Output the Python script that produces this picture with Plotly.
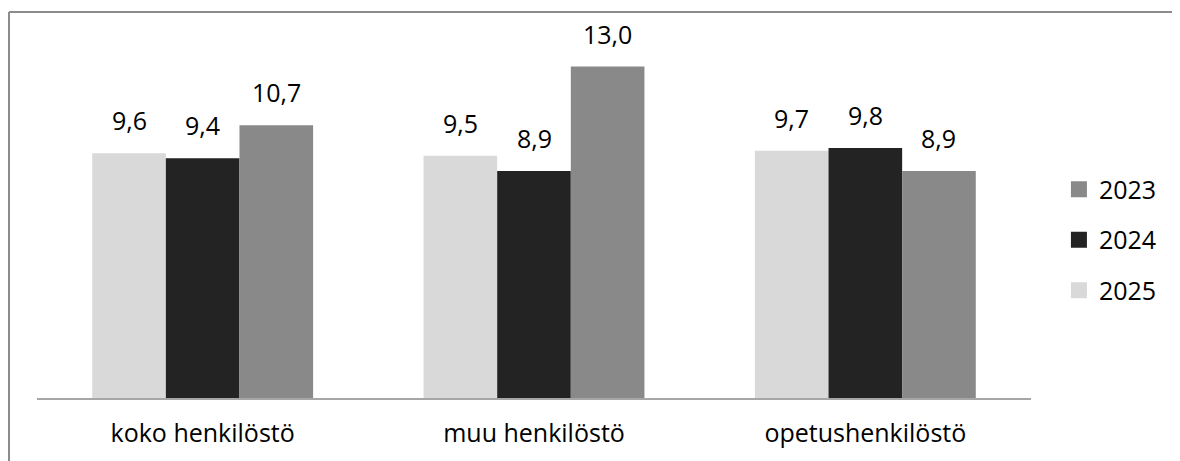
import plotly.graph_objects as go

categories = ["koko henkilöstö", "muu henkilöstö", "opetushenkilöstö"]
years = ["2025", "2024", "2023"]
values_2025 = [9.6, 9.5, 9.7]
values_2024 = [9.4, 8.9, 9.8]
values_2023 = [10.7, 13.0, 8.9]
colors = {"2025": "#d9d9d9", "2024": "#232323", "2023": "#898989"}

series = {"2025": values_2025, "2024": values_2024, "2023": values_2023}

FONT = "Open Sans"
FS = 25
bar_w = 2 / 9
offsets = {"2025": -1 / 3, "2024": -1 / 9, "2023": 1 / 9}

L, T, PW, PH = 29, 33, 994, 357

fig = go.Figure()
xs = list(range(len(categories)))
annotations = []
for i, yr in enumerate(years):
    vals = series[yr]
    fig.add_trace(go.Bar(
        x=xs, y=vals, name=yr,
        width=[bar_w] * len(xs), offset=offsets[yr],
        marker=dict(color=colors[yr], line=dict(width=0)),
        showlegend=False,
        hoverinfo="skip",
    ))
    for x, v in zip(xs, vals):
        annotations.append(dict(
            x=x + offsets[yr] + bar_w / 2, y=v, xref="x", yref="y",
            text=f"{v:.1f}".replace(".", ","), showarrow=False,
            yanchor="bottom", yshift=14,
            font=dict(family=FONT, size=FS, color="#000000"),
        ))

# legend entries (square swatches)
for i, yr in enumerate(years):
    fig.add_trace(go.Scatter(
        x=[None], y=[None], mode="markers", name=yr,
        marker=dict(symbol="square", size=16, color=colors[yr], line=dict(width=0)),
        legendgroup=yr, legendrank=3 - i, hoverinfo="skip",
    ))

fig.update_layout(
    width=1180, height=461,
    margin=dict(l=L, r=1180 - L - PW, t=T, b=461 - T - PH),
    paper_bgcolor="white", plot_bgcolor="white",
    font=dict(family=FONT, size=FS, color="#000000"),
    barmode="overlay",
    showlegend=True,
    legend=dict(
        x=1.0281, xanchor="left", y=0.4426, yanchor="middle",
        traceorder="grouped", tracegroupgap=15, itemsizing="trace",
        font=dict(family=FONT, size=FS, color="#000000"),
        bgcolor="rgba(0,0,0,0)",
    ),
    annotations=annotations,
    xaxis=dict(
        range=[-0.5, 2.5], tickvals=xs, ticktext=categories,
        showgrid=False, zeroline=False, showline=True,
        linecolor="#a6a6a6", linewidth=1.5, ticks="",
        ticklabelstandoff=12,
        tickfont=dict(family=FONT, size=FS, color="#000000"),
    ),
    yaxis=dict(range=[0, 14], visible=False, showgrid=False, zeroline=False),
    shapes=[
        dict(type="line", xref="paper", yref="paper",
             x0=(1 - L) / PW, x1=(1 - L) / PW,
             y0=(T + PH - 480) / PH, y1=(T + PH - 4) / PH,
             line=dict(color="#8c8c8c", width=2), layer="below"),
        dict(type="line", xref="paper", yref="paper",
             x0=(1 - L) / PW, x1=(1200 - L) / PW,
             y0=(T + PH - 4) / PH, y1=(T + PH - 4) / PH,
             line=dict(color="#8c8c8c", width=2), layer="below"),
    ],
)

fig.write_html("out.html")
